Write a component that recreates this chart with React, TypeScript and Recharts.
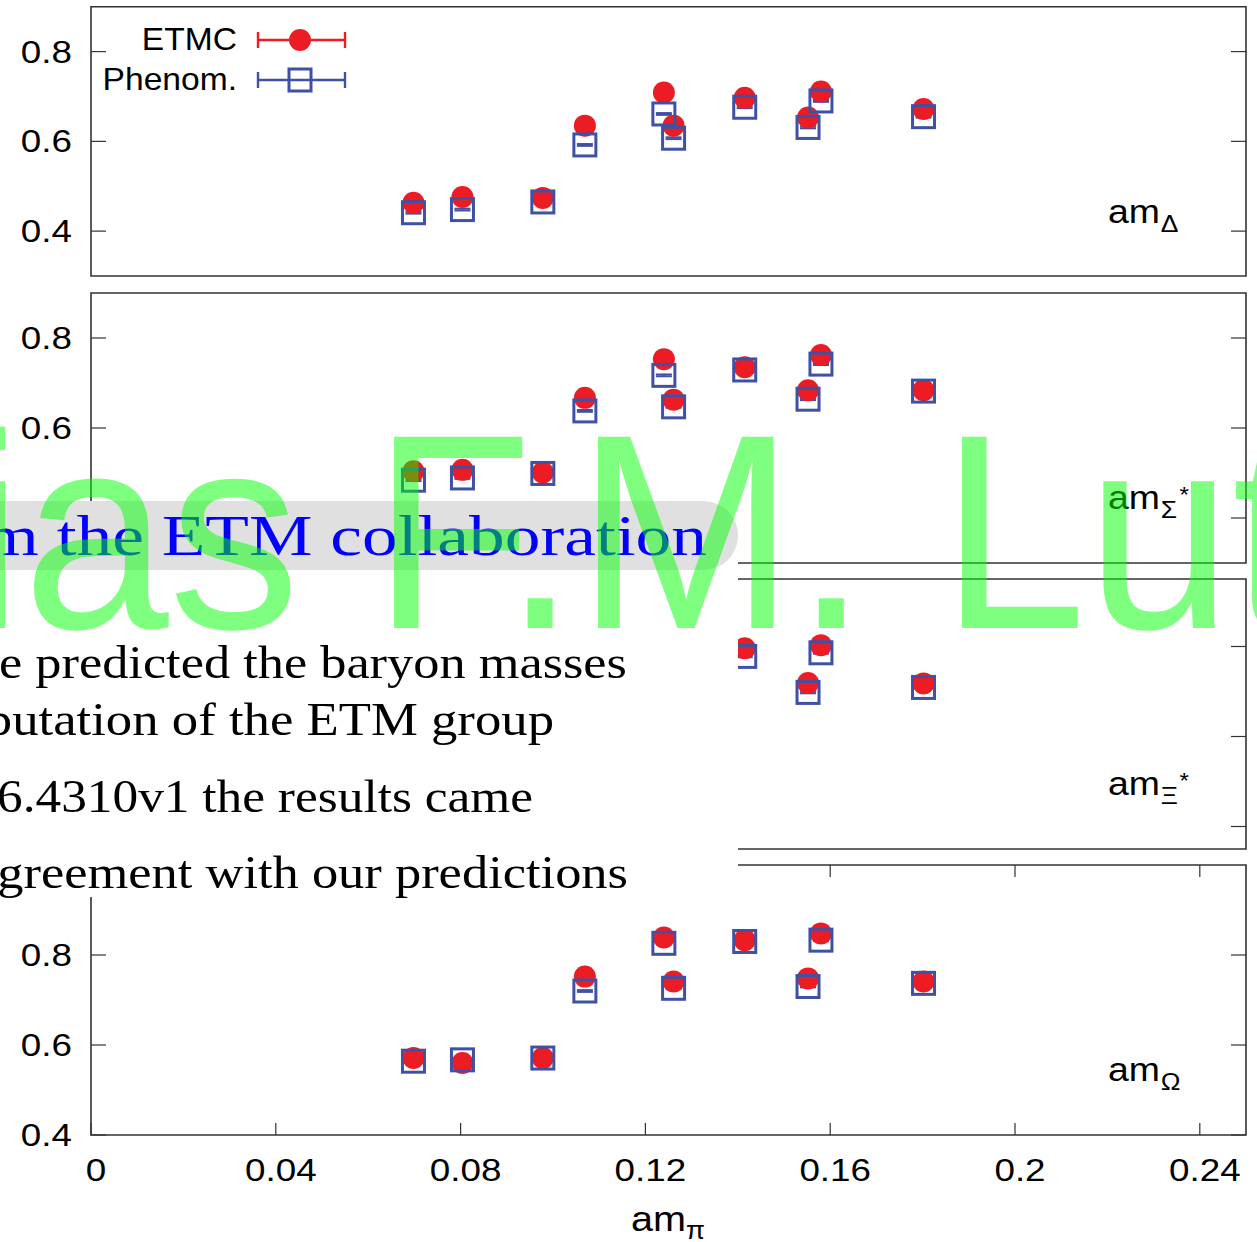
import React from "react";
import { ScatterChart, Scatter, XAxis, YAxis, ReferenceArea, ErrorBar } from "recharts";

const W = 1257;
const H = 1242;
const PLOT_L = 91;
const PLOT_R = 1246;
const RED = "#ec1c24";
const BLUE = "#3f51a5";
const INK = "#333";
const SANS = "'Liberation Sans', Arial, sans-serif";
const SERIF = "'Liberation Serif', 'Times New Roman', serif";

// pion masses of the ensembles (lattice units)
const amPi = [0.0698, 0.0804, 0.0978, 0.1069, 0.124, 0.1261, 0.1415, 0.1552, 0.158, 0.1802];

const deltaEtmc = [0.463, 0.476, 0.474, 0.635, 0.709, 0.635, 0.697, 0.653, 0.711, 0.672];
const deltaPhen = [0.441, 0.448, 0.465, 0.592, 0.661, 0.607, 0.676, 0.631, 0.69, 0.655];

const sigmaEtmc = [0.504, 0.507, 0.501, 0.667, 0.753, 0.663, 0.735, 0.684, 0.762, 0.684];
const sigmaPhen = [0.484, 0.489, 0.499, 0.638, 0.717, 0.647, 0.729, 0.664, 0.742, 0.682];

const xiEtmc = [0.53, 0.535, 0.54, 0.71, 0.79, 0.7, 0.796, 0.719, 0.803, 0.718];
const xiPhen = [0.52, 0.525, 0.535, 0.69, 0.77, 0.69, 0.778, 0.698, 0.786, 0.709];

const omegaEtmc = [0.571, 0.56, 0.571, 0.752, 0.839, 0.741, 0.833, 0.748, 0.848, 0.741];
const omegaPhen = [0.564, 0.567, 0.571, 0.72, 0.826, 0.726, 0.83, 0.73, 0.833, 0.737];

const phenErr = [0.002, 0.002, 0.002, 0.002, 0.002, 0.002, 0.002, 0.002, 0.002, 0.002];

const xTicks = [0, 0.04, 0.08, 0.12, 0.16, 0.2, 0.24];
const yTicks = [0.4, 0.6, 0.8];

const rows = (vals: number[], errs?: number[]) =>
  amPi.map((x, i) => ({ x, y: vals[i], err: errs ? errs[i] : 0 }));

type Panel = {
  top: number;
  bottom: number;
  domain: [number, number];
  etmc: number[];
  phen: number[];
  sub: string;
  star: boolean;
  showX?: boolean;
};

const panels: Panel[] = [
  { top: 6.7, bottom: 276, domain: [0.3, 0.9], etmc: deltaEtmc, phen: deltaPhen, sub: "Δ", star: false },
  { top: 293, bottom: 563, domain: [0.3, 0.9], etmc: sigmaEtmc, phen: sigmaPhen, sub: "Σ", star: true },
  { top: 579, bottom: 849, domain: [0.35, 0.95], etmc: xiEtmc, phen: xiPhen, sub: "Ξ", star: true },
  { top: 865, bottom: 1135, domain: [0.4, 1.0], etmc: omegaEtmc, phen: omegaPhen, sub: "Ω", star: false, showX: true },
];

const Dot = (p: any) => <circle cx={p.cx} cy={p.cy} r={11} fill={RED} />;
const Box = (p: any) => (
  <rect x={p.cx - 11} y={p.cy - 11} width={22} height={22} fill="none" stroke={BLUE} strokeWidth={3} />
);

// inward ticks on both sides, label on the left
const YTick = (p: any) => (
  <g>
    <line x1={PLOT_L} x2={PLOT_L + 15} y1={p.y} y2={p.y} stroke={INK} strokeWidth={1.2} />
    <line x1={PLOT_R - 15} x2={PLOT_R} y1={p.y} y2={p.y} stroke={INK} strokeWidth={1.2} />
    <text
      transform={`translate(72,${p.y + 11}) scale(1.15,1)`}
      textAnchor="end"
      fontSize={32}
      fontFamily={SANS}
      fill="#000"
    >
      {String(p.payload.value)}
    </text>
  </g>
);

const makeXTick = (top: number, bottom: number) => (p: any) => (
  <g>
    <line x1={p.x} x2={p.x} y1={bottom} y2={bottom - 12} stroke={INK} strokeWidth={1.2} />
    <line x1={p.x} x2={p.x} y1={top} y2={top + 12} stroke={INK} strokeWidth={1.2} />
    <text
      transform={`translate(${p.x + 5},${bottom + 46}) scale(1.15,1)`}
      textAnchor="middle"
      fontSize={32}
      fontFamily={SANS}
      fill="#000"
    >
      {String(p.payload.value)}
    </text>
  </g>
);

function PanelChart({ panel }: { panel: Panel }) {
  const axisH = panel.showX ? 1 : 0;
  return (
    <div style={{ position: "absolute", left: 0, top: 0 }}>
      <ScatterChart
        width={W}
        height={H}
        margin={{ top: panel.top, right: W - PLOT_R, bottom: H - panel.bottom - axisH, left: 0 }}
      >
        <XAxis
          type="number"
          dataKey="x"
          domain={[0, 0.25]}
          ticks={xTicks}
          hide={!panel.showX}
          height={axisH}
          axisLine={false}
          tickLine={false}
          tickSize={0}
          tickMargin={0}
          tick={makeXTick(panel.top, panel.bottom)}
          interval={0}
          allowDataOverflow
        />
        <YAxis
          type="number"
          dataKey="y"
          domain={panel.domain}
          ticks={yTicks}
          width={PLOT_L}
          axisLine={false}
          tickLine={false}
          tickSize={0}
          tickMargin={0}
          tick={YTick}
          interval={0}
          allowDataOverflow
        />
        <ReferenceArea
          x1={0}
          x2={0.25}
          y1={panel.domain[0]}
          y2={panel.domain[1]}
          fill="none"
          fillOpacity={0}
          stroke={INK}
          strokeWidth={1.6}
        />
        <Scatter data={rows(panel.etmc)} shape={Dot} isAnimationActive={false} />
        <Scatter data={rows(panel.phen, phenErr)} shape={Box} isAnimationActive={false}>
          <ErrorBar dataKey="err" direction="y" width={8} strokeWidth={2} stroke={BLUE} />
        </Scatter>
      </ScatterChart>
    </div>
  );
}

function MassLabel({ x, y, sub, star }: { x: number; y: number; sub: string; star: boolean }) {
  return (
    <g transform={`translate(${x},${y}) scale(1.1,1)`} fontFamily={SANS} fill="#000">
      <text x={0} y={0} fontSize={34}>am</text>
      <text x={48} y={9} fontSize={24}>{sub}</text>
      {star && <text x={65} y={-7} fontSize={22}>*</text>}
    </g>
  );
}

export default function App() {
  return (
    <div style={{ position: "absolute", left: 0, top: 0, width: W, height: H, background: "#fff", overflow: "hidden" }}>
      {panels.map((p, i) => (
        <PanelChart key={i} panel={p} />
      ))}
      <svg width={W} height={H} style={{ position: "absolute", left: 0, top: 0 }}>
        {/* legend */}
        <g fontFamily={SANS} fontSize={32} fill="#000">
          <text transform="translate(237,50) scale(1.05,1)" textAnchor="end">ETMC</text>
          <text transform="translate(237,90) scale(1.05,1)" textAnchor="end">Phenom.</text>
        </g>
        <g stroke={RED} strokeWidth={2.4}>
          <line x1={258} x2={345} y1={40} y2={40} />
          <line x1={258} x2={258} y1={32} y2={48} />
          <line x1={345} x2={345} y1={32} y2={48} />
        </g>
        <circle cx={300} cy={40} r={11} fill={RED} />
        <g stroke={BLUE} strokeWidth={2.4}>
          <line x1={258} x2={345} y1={80} y2={80} />
          <line x1={258} x2={258} y1={72} y2={88} />
          <line x1={345} x2={345} y1={72} y2={88} />
        </g>
        <rect x={289} y={69} width={22} height={22} fill="none" stroke={BLUE} strokeWidth={3} />

        {panels.map((p, i) => (
          <MassLabel key={i} x={1108} y={p.top + 216} sub={p.sub} star={p.star} />
        ))}

        {/* x axis title */}
        <g transform="translate(631,1231) scale(1.1,1)" fontFamily={SANS} fill="#000">
          <text x={0} y={0} fontSize={36}>am</text>
          <text x={50} y={8} fontSize={25}>π</text>
        </g>

        {/* slide text box */}
        <rect x={0} y={501} width={738} height={396} fill="#fff" />
        <rect x={-60} y={501} width={798} height={69} rx={34.5} fill="#e0e0e0" />
        <text x={-100} y={555} fontSize={57} fontFamily={SERIF} fill="#0000ff" textLength={807} lengthAdjust="spacingAndGlyphs">
          from the ETM collaboration
        </text>
        <g fontFamily={SERIF} fontSize={46} fill="#000">
          <text x={-1} y={678} textLength={628} lengthAdjust="spacingAndGlyphs">e predicted the baryon masses</text>
          <text x={-105} y={735} textLength={659} lengthAdjust="spacingAndGlyphs">computation of the ETM group</text>
          <text x={-3} y={812} textLength={536} lengthAdjust="spacingAndGlyphs">6.4310v1 the results came</text>
          <text x={-26} y={888} textLength={654} lengthAdjust="spacingAndGlyphs">agreement with our predictions</text>
        </g>

        {/* watermark */}
        <g transform="translate(-691,628) scale(0.943,1)">
          <text
            x={0}
            y={0}
            fontSize={278}
            fontFamily={SANS}
            fill="#00ff00"
            fillOpacity={0.5}
            style={{ fontKerning: "normal" }}
          >
            Matthias F.M. Lutz
          </text>
        </g>
      </svg>
    </div>
  );
}
